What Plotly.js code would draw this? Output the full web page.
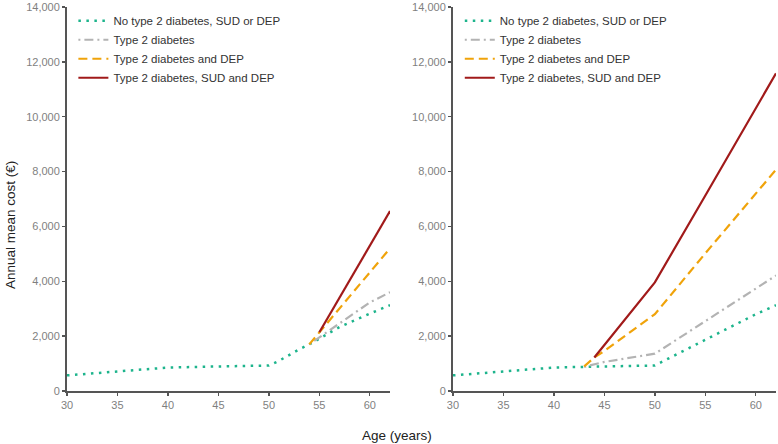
<!DOCTYPE html>
<html>
<head>
<meta charset="utf-8">
<script src="https://cdn.plot.ly/plotly-3.0.1.min.js"></script>
<style>
  html, body { margin: 0; padding: 0; background: #fff; }
  #chart { width: 778px; height: 444px; }
</style>
</head>
<body>
<div id="chart"></div>
<script>
// Series names (legend labels)
const seriesNames = [
  "No type 2 diabetes, SUD or DEP",
  "Type 2 diabetes",
  "Type 2 diabetes and DEP",
  "Type 2 diabetes, SUD and DEP"
];

// Left panel: annual mean cost (€) by age
const leftAgeNone = [30, 35, 40, 45, 50, 51, 52, 53, 54, 55, 57, 60, 62];
const leftCostNone = [570, 720, 855, 895, 930, 1100, 1320, 1520, 1700, 1900, 2330, 2820, 3130];
const leftAgeT2D = [54, 55, 56, 60, 62];
const leftCostT2D = [1700, 1950, 2200, 3230, 3600];
const leftAgeDep = [54, 55, 60, 62];
const leftCostDep = [1700, 2140, 4330, 5200];
const leftAgeSud = [55, 60, 62];
const leftCostSud = [2140, 5300, 6560];

// Right panel: annual mean cost (€) by age
const rightAgeNone = [30, 35, 40, 43, 45, 50, 51, 55, 60, 62];
const rightCostNone = [570, 720, 855, 880, 895, 930, 1120, 1870, 2800, 3130];
const rightAgeT2D = [43, 44, 45, 50, 55, 60, 62];
const rightCostT2D = [880, 980, 1060, 1360, 2540, 3720, 4210];
const rightAgeDep = [43, 44, 45, 50, 55, 60, 62];
const rightCostDep = [900, 1220, 1460, 2800, 5020, 7220, 8070];
const rightAgeSud = [44, 45, 50, 55, 60, 62];
const rightCostSud = [1220, 1680, 3960, 7130, 10300, 11580];

// Axis ticks
const xTicks = [30, 35, 40, 45, 50, 55, 60];
const yTicks = [0, 2000, 4000, 6000, 8000, 10000, 12000, 14000];

// Line styles per series
const styles = [
  { color: "#1db48c", width: 2.5, dash: "2.5px,5.5px" },
  { color: "#b3b3b3", width: 2.2, dash: "2px,4px,9px,4px" },
  { color: "#f0a30a", width: 2.2, dash: "9px,5px" },
  { color: "#a11a1a", width: 2.2, dash: "solid" }
];

function mkTrace(x, y, i, xa, ya, leg) {
  return {
    x: x, y: y, type: "scatter", mode: "lines",
    name: seriesNames[i],
    line: { color: styles[i].color, width: styles[i].width, dash: styles[i].dash },
    xaxis: xa, yaxis: ya, legend: leg,
    hoverinfo: "skip"
  };
}

const traces = [
  mkTrace(leftAgeNone, leftCostNone, 0, "x", "y", "legend"),
  mkTrace(leftAgeT2D, leftCostT2D, 1, "x", "y", "legend"),
  mkTrace(leftAgeDep, leftCostDep, 2, "x", "y", "legend"),
  mkTrace(leftAgeSud, leftCostSud, 3, "x", "y", "legend"),
  mkTrace(rightAgeNone, rightCostNone, 0, "x2", "y2", "legend2"),
  mkTrace(rightAgeT2D, rightCostT2D, 1, "x2", "y2", "legend2"),
  mkTrace(rightAgeDep, rightCostDep, 2, "x2", "y2", "legend2"),
  mkTrace(rightAgeSud, rightCostSud, 3, "x2", "y2", "legend2")
];

const axisLine = "#555555";
const tickFont = { family: "Liberation Sans, Arial, sans-serif", size: 11, color: "#7f7f7f" };

function xAxis(domain, anchor) {
  return {
    domain: domain, anchor: anchor, range: [30, 62],
    tickmode: "array", tickvals: xTicks, ticktext: xTicks.map(String),
    showline: true, linecolor: axisLine, linewidth: 2,
    ticks: "outside", ticklen: 3, tickwidth: 1.3, tickcolor: axisLine,
    showgrid: false, zeroline: false, tickfont: tickFont,
    ticklabeloverflow: "allow"
  };
}
function yAxis(anchor) {
  return {
    anchor: anchor, range: [0, 14000],
    tickmode: "array", tickvals: yTicks, tickformat: ",d",
    showline: true, linecolor: axisLine, linewidth: 2,
    ticks: "outside", ticklen: 3, tickwidth: 1.3, tickcolor: axisLine,
    showgrid: false, zeroline: false, tickfont: tickFont,
    ticklabeloverflow: "allow"
  };
}

const legendBase = {
  bgcolor: "rgba(0,0,0,0)", borderwidth: 0,
  font: { family: "Liberation Sans, Arial, sans-serif", size: 11.5, color: "#333333" },
  xanchor: "left", yanchor: "top", yref: "paper", xref: "paper",
  tracegroupgap: 0
};

const titleFont = { family: "Liberation Sans, Arial, sans-serif", size: 13.5, color: "#222222" };

const layout = {
  width: 778, height: 444,
  margin: { l: 67, r: 2, t: 7, b: 53, pad: 0 },
  paper_bgcolor: "#ffffff", plot_bgcolor: "#ffffff",
  showlegend: true,
  xaxis: xAxis([0, 0.4556], "y"),
  yaxis: yAxis("x"),
  xaxis2: xAxis([0.5444, 1], "y2"),
  yaxis2: yAxis("x2"),
  legend: Object.assign({}, legendBase, { x: 0.009, y: 1.002 }),
  legend2: Object.assign({}, legendBase, { x: 0.554, y: 1.002 }),
  annotations: [
    {
      text: "Annual mean cost (€)", textangle: -90,
      xref: "paper", yref: "paper", x: -0.0804, y: 0.432,
      xanchor: "center", yanchor: "middle", showarrow: false, font: titleFont
    },
    {
      text: "Age (years)",
      xref: "paper", yref: "paper", x: 0.4654, y: -0.1146,
      xanchor: "center", yanchor: "middle", showarrow: false, font: titleFont
    }
  ]
};

Plotly.newPlot("chart", traces, layout, { staticPlot: true, displayModeBar: false });
</script>
</body>
</html>
